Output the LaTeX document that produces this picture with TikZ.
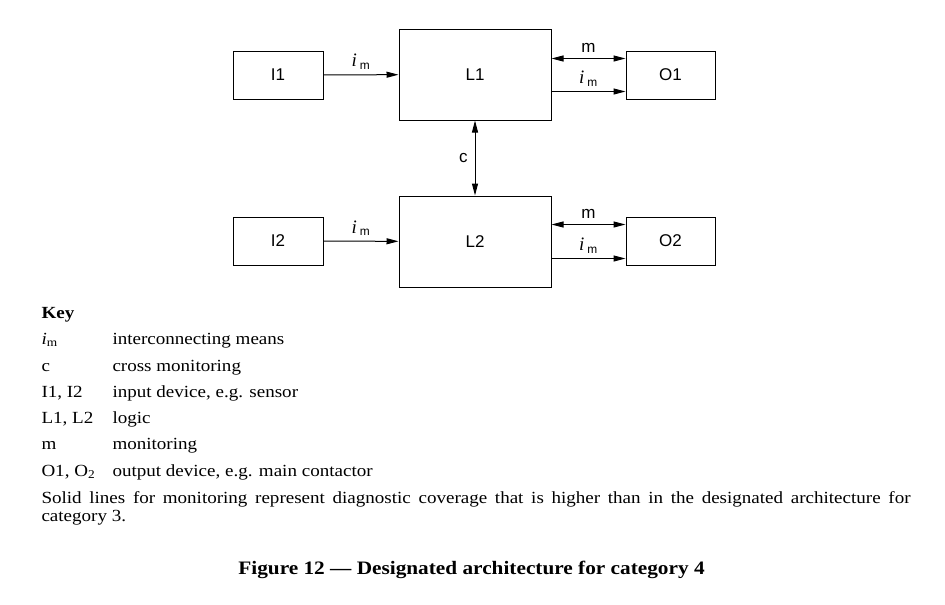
\documentclass[tikz,border=0pt]{standalone}
\usepackage{fontspec}
\setmainfont{Liberation Serif}[FakeStretch=1.12]
\setsansfont{Liberation Sans}
\newfontfamily\diagserif{Liberation Serif}
\usetikzlibrary{arrows.meta,positioning}

\newcommand{\imlab}{{\diagserif\itshape\fontsize{19}{21}\selectfont i}\,\textsubscript{m}}
\newcommand{\imkey}{\textit{i}\textsubscript{m}}

\begin{document}
\begin{tikzpicture}[
  x=1pt, y=-1pt,
  >={Triangle[length=12pt,width=6pt]},
  line width=1pt,
  block/.style={draw, minimum width=90pt, minimum height=48pt, font=\sffamily\fontsize{17}{19}\selectfont},
  logic/.style={block, minimum width=152pt, minimum height=91pt},
  lbl/.style={font=\sffamily\fontsize{17}{19}\selectfont, inner sep=2pt},
  keytxt/.style={anchor=base west, inner sep=0pt, font=\fontsize{17}{20}\selectfont}
]
\useasboundingbox (0,0) rectangle (945,605);

% Blocks (channel 1 on top, channel 2 below)
\node[block] (I1) at (278, 75) {I1};
\node[logic] (L1) at (475, 74.5) {L1};
\node[block, minimum width=89pt] (O1) at (670.5, 75) {O1};

\node[block] (I2) at (278, 241) {I2};
\node[logic] (L2) at (475, 241.5) {L2};
\node[block, minimum width=89pt] (O2) at (670.5, 241) {O2};

% Inputs -> logic
\draw[->] (I1) -- (L1) node[lbl, midway, above=3pt] {\imlab};
\draw[->] (I2) -- (L2) node[lbl, midway, above=3pt] {\imlab};

% Logic <-> outputs (monitoring and interconnecting means)
\draw[<->] ([yshift=16pt]L1.east) -- ([yshift=16pt]L1.east -| O1.west) node[lbl, midway, above=4pt] {m};
\draw[->] ([yshift=-17pt]L1.east) -- ([yshift=-17pt]L1.east -| O1.west) node[lbl, midway, above=3pt] {\imlab};

\draw[<->] ([yshift=17pt]L2.east) -- ([yshift=17pt]L2.east -| O2.west) node[lbl, midway, above=4pt] {m};
\draw[->] ([yshift=-17pt]L2.east) -- ([yshift=-17pt]L2.east -| O2.west) node[lbl, midway, above=3pt] {\imlab};

% Cross monitoring
\draw[<->] (L1) -- (L2) node[lbl, midway, left=5pt] {c};

% Key
\node[keytxt, font=\bfseries\fontsize{17}{20}\selectfont] (key) at (41, 318) {Key};
\node[keytxt] (k1) at (41, 344) {\imkey};
\node[keytxt] (k1t) at (112, 344) {interconnecting means};
\node[keytxt] (k2) at (41, 371) {c};
\node[keytxt] (k2t) at (112, 371) {cross monitoring};
\node[keytxt] (k3) at (41, 397) {I1, I2};
\node[keytxt] (k3t) at (112, 397) {input device, e.g. sensor};
\node[keytxt] (k4) at (41, 423) {L1, L2};
\node[keytxt] (k4t) at (112, 423) {logic};
\node[keytxt] (k5) at (41, 449) {m};
\node[keytxt] (k5t) at (112, 449) {monitoring};
\node[keytxt] (k6) at (41, 476) {O1, O\textsubscript{2}};
\node[keytxt] (k6t) at (112, 476) {output device, e.g. main contactor};
\node[keytxt] (note1) at (41, 503) {\makebox[869pt][s]{Solid lines for monitoring represent diagnostic coverage that is higher than in the designated architecture for}};
\node[keytxt] (note2) at (41, 521) {category 3.};

% Caption
\node[anchor=base, inner sep=0pt, font=\bfseries\fontsize{19}{23}\selectfont] (cap) at (471.5, 574) {Figure 12 --- Designated architecture for category 4};

\end{tikzpicture}
\end{document}
